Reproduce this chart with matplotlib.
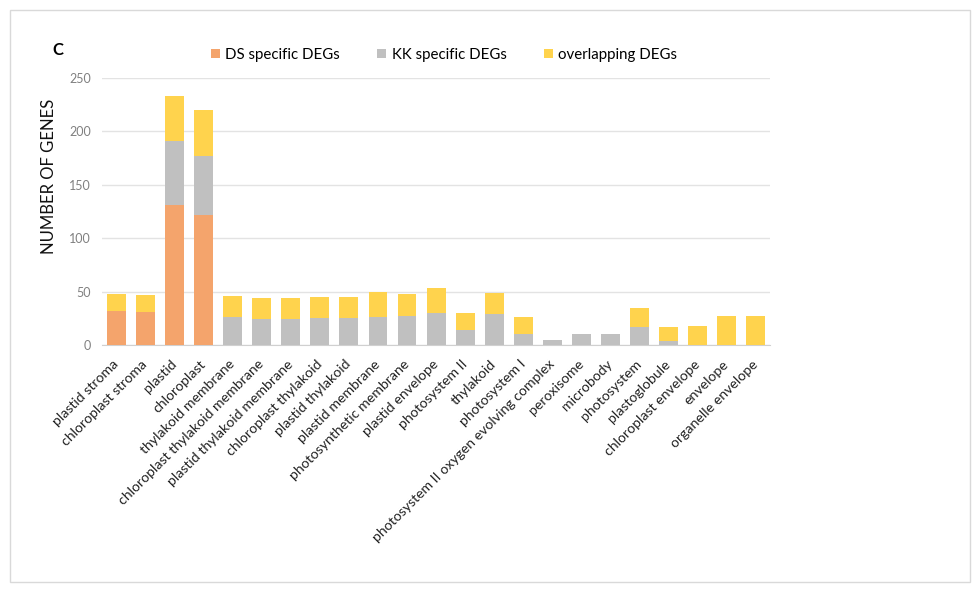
import matplotlib.pyplot as plt
import numpy as np
from matplotlib.patches import Rectangle

plt.rcParams['font.family'] = ['Lato', 'DejaVu Sans']

categories = [
    "plastid stroma", "chloroplast stroma", "plastid", "chloroplast",
    "thylakoid membrane", "chloroplast thylakoid membrane",
    "plastid thylakoid membrane", "chloroplast thylakoid", "plastid thylakoid",
    "plastid membrane", "photosynthetic membrane", "plastid envelope",
    "photosystem II", "thylakoid", "photosystem I",
    "photosystem II oxygen evolving complex", "peroxisome", "microbody",
    "photosystem", "plastoglobule", "chloroplast envelope", "envelope",
    "organelle envelope",
]
ds_specific = [32, 31, 131, 122, 0, 0, 0, 0, 0, 0, 0, 0, 0, 0, 0, 0, 0, 0, 0, 0, 0, 0, 0]
kk_specific = [0, 0, 60, 55, 27, 25, 25, 26, 26, 27, 28, 30, 14, 29, 11, 5, 11, 11, 17, 4, 0, 0, 0]
overlapping = [16, 16, 42, 43, 19, 19, 19, 19, 19, 23, 20, 24, 16, 20, 16, 0, 0, 0, 18, 13, 18, 28, 28]

series_names = ["DS specific DEGs", "KK specific DEGs", "overlapping DEGs"]
colors = ["#F4A46C", "#C0C0C0", "#FFD34D"]

fig = plt.figure(figsize=(9.8, 5.92), dpi=100)
ax = fig.add_axes([0.104, 0.4164, 0.682, 0.4523])

x = np.arange(len(categories))
bottom = np.zeros(len(categories))
handles = []
for vals, name, col in zip([ds_specific, kk_specific, overlapping], series_names, colors):
    vals = np.array(vals)
    h = ax.bar(x, vals, width=0.65, bottom=bottom, color=col, label=name, zorder=3)
    handles.append(h)
    bottom += vals

ax.set_xlim(-0.5, len(categories) - 0.5)
ax.set_ylim(0, 250)
ax.set_yticks([0, 50, 100, 150, 200, 250])
ax.yaxis.grid(True, color="#E3E3E3", linewidth=1, zorder=0)
for s in ["top", "right", "left"]:
    ax.spines[s].set_visible(False)
ax.spines["bottom"].set_color("#D0D0D0")
ax.tick_params(axis="y", length=0, labelsize=9, labelcolor="#808080", pad=8)
ax.tick_params(axis="x", length=0, pad=12)
ax.set_xticks(x)
ax.set_xticklabels(categories, rotation=45, ha="right", va="center",
                   rotation_mode="anchor", fontsize=10.2, color="#222222")
ax.set_ylabel("NUMBER OF GENES", fontsize=12, color="#111111")
ax.yaxis.set_label_coords(-0.067, 0.633)

fig.legend(handles=handles, labels=series_names, loc="center", ncol=3,
           bbox_to_anchor=(444 / 980, 1 - 55 / 592), frameon=False, fontsize=10.8,
           handlelength=0.6, handleheight=0.6, columnspacing=2.5, handletextpad=0.35)

fig.text(52 / 980, 1 - 50 / 592, "C", fontsize=12, fontweight="bold", va="center")

fig.patches.append(Rectangle((10 / 980, 10 / 592), 960 / 980, 572 / 592,
                             transform=fig.transFigure, fill=False,
                             edgecolor="#D9D9D9", linewidth=1))

fig.savefig("out.png", dpi=100)
